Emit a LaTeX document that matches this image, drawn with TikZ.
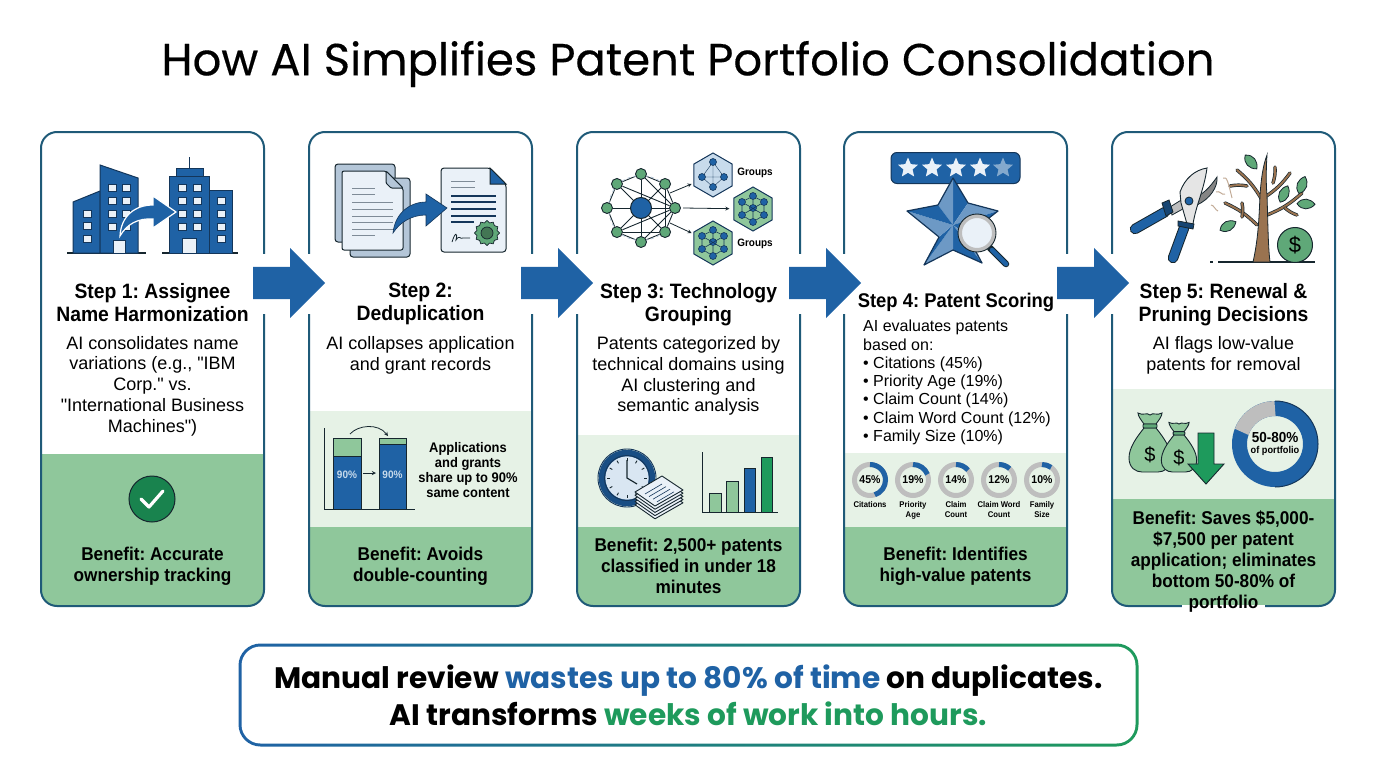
\documentclass[tikz,border=0pt]{standalone}
\usepackage{fontspec}
\setmainfont{Liberation Sans}[BoldFeatures={FakeStretch=0.93}]
\newfontfamily\titlefont{Poppins}[FakeBold=0.35]
\newfontfamily\calloutfont{Poppins}
\newfontfamily\quotefont{Liberation Sans}
\newcommand{\dq}{{\quotefont\symbol{34}}}
\usepackage{tikz}
\usetikzlibrary{positioning, arrows, backgrounds, shapes, shapes.geometric, shapes.arrows}
\definecolor{cardline}{HTML}{1F5A78}
\definecolor{patentblue}{HTML}{1F62A5}
\definecolor{navyline}{HTML}{14365A}
\definecolor{lightblue}{HTML}{C8DBEC}
\definecolor{paperblue}{HTML}{EAF1F8}
\definecolor{sheetblue}{HTML}{B4C6D8}
\definecolor{benefitgreen}{HTML}{8FC79B}
\definecolor{panelgreen}{HTML}{E6F2E6}
\definecolor{darkgreen}{HTML}{1E9A5C}
\definecolor{sealgreen}{HTML}{5FA878}
\definecolor{inkline}{HTML}{16262E}
\definecolor{treebrown}{HTML}{9A7350}
\definecolor{ringgray}{HTML}{BEBEBE}
\tikzstyle{card} = [rectangle, rounded corners=16pt, line width=2pt, minimum width=223pt, minimum height=474pt, draw=cardline]
\tikzstyle{blockarrow} = [single arrow, anchor=tail, fill=patentblue, inner sep=16pt, minimum height=72pt, minimum width=70pt, single arrow head extend=19pt]
\tikzstyle{steptitle} = [align=center, inner sep=0pt, font=\fontsize{20.8}{23}\selectfont\bfseries]
\tikzstyle{stepbody} = [align=center, inner sep=0pt, font=\fontsize{18}{20.7}\selectfont]
\tikzstyle{benefit} = [align=center, inner sep=0pt, font=\fontsize{18.5}{21}\selectfont\bfseries]
\tikzstyle{window} = [fill=paperblue, draw=navyline, line width=0.8pt]
\tikzstyle{building} = [fill=patentblue, draw=navyline, line width=1pt]
\tikzstyle{curvearrow} = [fill=patentblue, draw=white, line width=1.2pt]
\tikzstyle{arrow} = [thick,->,>=stealth,inkline]
\tikzstyle{netnode} = [circle, fill=sealgreen, draw=inkline, line width=0.9pt, minimum size=11pt, inner sep=0pt]
\tikzstyle{hexnode} = [circle, fill=patentblue, draw=navyline, line width=0.6pt, minimum size=7pt, inner sep=0pt]
\tikzstyle{hexagon} = [regular polygon, regular polygon sides=6, draw=navyline, line width=1pt, minimum size=44pt, inner sep=0pt]
\tikzstyle{tinylabel} = [align=center, inner sep=0pt, font=\fontsize{8.3}{9.6}\selectfont\bfseries]
\tikzstyle{bar} = [draw=inkline, line width=0.9pt]
\newcommand{\leafat}[3]{\begin{scope}[shift={(#1,#2)}, rotate=#3]
        \draw[fill=sealgreen, draw=inkline, line width=0.8pt] (-9pt,0pt) .. controls (-4pt,-7pt) and (4pt,-6pt) .. (9pt,0pt) .. controls (4pt,6pt) and (-4pt,7pt) .. (-9pt,0pt) -- cycle;
    \end{scope}}
\frenchspacing
\begin{document}
\begin{tikzpicture}[x=1pt, y=-1pt]
    \useasboundingbox (0,0) rectangle (1376,768);
    \node (title) [inner sep=0pt, font=\titlefont\fontsize{45}{52}\selectfont] at (688,64) {How AI Simplifies Patent Portfolio Consolidation};

    % panels of the cards
    \foreach \cx/\ly/\by in {41/454/454, 309/411/527, 577/435/527, 844/453/527, 1112/389/499} {
        \begin{scope}
            \clip[rounded corners=16pt] (\cx,132) rectangle ++(223,474);
            \fill[panelgreen] (\cx,\ly) rectangle ++(223,130);
            \fill[benefitgreen] (\cx,\by) rectangle ++(223,160);
        \end{scope}
    }
    \foreach \n/\x in {1/152.5, 2/420.5, 3/688.5, 4/955.5, 5/1223.5} {
        \node (card\n) [card] at (\x,369) {};
    }

    % step 1 buildings
    \draw[inkline, line width=1.2pt] (67,253) -- (146,253);
    \draw[inkline, line width=1.2pt] (162,253) -- (238,253);
    \draw[building] (73,253) -- (73,202) -- (100,191) -- (100,253) -- cycle;
    \draw[building] (100,253) -- (100,165) -- (138,178) -- (138,253) -- cycle;
    \draw[building] (189,157) -- (189,168);
    \draw[building] (176,168) rectangle (203,176);
    \draw[building] (169,176) rectangle (209,253);
    \draw[building] (209,190) rectangle (232,253);
    \foreach \wy in {184,197,210,223} {
        \draw[window] (108,\wy) rectangle ++(8,7);
        \draw[window] (122,\wy) rectangle ++(8,7);
        \draw[window] (178,\wy) rectangle ++(8,7);
        \draw[window] (193,\wy) rectangle ++(8,7);
    }
    \foreach \wy in {210,222,235} {
        \draw[window] (83,\wy) rectangle ++(8,7);
    }
    \foreach \wy in {197,210,223,235} {
        \draw[window] (217,\wy) rectangle ++(8,7);
    }
    \draw[fill=paperblue, draw=navyline] (113,240) rectangle (125,253);
    \draw[fill=paperblue, draw=navyline] (182,238) rectangle (196,253);
    \draw[curvearrow] (120,236) .. controls (121,216) and (135,205) .. (153,205) -- (153,196) -- (176,212) -- (153,228) -- (153,219) .. controls (138,218) and (127,224) .. (120,236) -- cycle;

    % step 2 documents
    \draw[fill=sheetblue, draw=inkline, rounded corners=3pt, line width=1pt] (335,164) rectangle (395,242);
    \draw[fill=sheetblue, draw=inkline, rounded corners=3pt, line width=1pt] (350,178) rectangle (410,257);
    \draw[fill=paperblue, draw=inkline, line width=1pt, rounded corners=2pt] (342,171) -- (386,171) -- (403,188) -- (403,250) -- (342,250) -- cycle;
    \draw[fill=sheetblue, draw=inkline, line width=1pt, rounded corners=1pt] (386,171) -- (386,183) -- (391,188) -- (403,188) -- cycle;
    \foreach \ly in {188,194,235} {
        \draw[sheetblue!70!black, line width=1pt] (352,\ly) -- (375,\ly);
    }
    \foreach \ly in {202,209,216,222,229} {
        \draw[sheetblue!70!black, line width=1pt] (352,\ly) -- (393,\ly);
    }
    \draw[fill=paperblue, draw=inkline, line width=1pt, rounded corners=3pt] (441,168) -- (490,168) -- (506,184) -- (506,252) -- (441,252) -- cycle;
    \draw[fill=patentblue, draw=inkline, line width=1pt] (490,168) -- (490,184) -- (506,184) -- cycle;
    \foreach \ly in {181,187} {
        \draw[sheetblue!70!black, line width=1pt] (451,\ly) -- (475,\ly);
    }
    \foreach \ly in {196,202,209,216} {
        \draw[navyline, line width=1.2pt] (451,\ly) -- (496,\ly);
    }
    \draw[navyline, line width=1.2pt] (451,222) -- (474,222);
    \node (seal) [star, star points=12, star point ratio=1.2, fill=sealgreen, draw=inkline, line width=0.7pt, minimum size=25pt, inner sep=0pt] at (487,233) {};
    \draw[draw=inkline, fill=sealgreen!70!black, line width=0.7pt] (seal.center) circle (6pt);
    \draw[inkline, line width=0.8pt] (452,242) .. controls (455,232) and (458,232) .. (456,240) .. controls (460,234) and (460,240) .. (463,238) -- (470,238);
    \draw[fill=patentblue, draw=navyline, line width=0.6pt] (393,233) .. controls (395,213) and (410,202) .. (426,202) -- (426,194) -- (447,208) -- (426,226) -- (426,215) .. controls (412,215) and (400,222) .. (393,233) -- cycle;

    % step 3 network and groups
    \foreach \a/\n in {90/1, 45/2, 0/3, -45/4, -90/5, -135/6, 180/7, 135/8} {
        \node (net\n) [netnode] at ([shift={(\a:34pt)}]641,208) {};
    }
    \node (nethub) [circle, fill=patentblue, draw=inkline, line width=1pt, minimum size=21pt, inner sep=0pt] at (641,208) {};
    \begin{scope}[on background layer]
        \foreach \a/\b in {1/2,2/3,3/4,4/5,5/6,6/7,7/8,8/1,2/4,4/6,8/3,6/3,1/3,5/3} {
            \draw[inkline, line width=0.9pt] (net\a) -- (net\b);
        }
        \foreach \n in {1,...,8} {
            \draw[inkline, line width=0.9pt] (nethub) -- (net\n);
        }
        \draw[sheetblue, line width=0.8pt, dashed] (net8) to[bend right=30] (net6) (net6) to[bend right=30] (net4) (net8) to[bend left=30] (net2);
    \end{scope}
    \node (hexa) [hexagon, shape border rotate=90, fill=lightblue] at (713,175) {};
    \node (hexb) [hexagon, shape border rotate=90, fill=benefitgreen] at (753,209) {};
    \node (hexc) [hexagon, shape border rotate=90, fill=benefitgreen] at (713,243) {};
    \coordinate (outa) at (670,193);
    \coordinate (outb) at (683,208);
    \coordinate (outc) at (670,223);
    \draw [arrow, shorten >=2pt] (outa) -- (hexa);
    \draw [arrow, shorten >=4pt] (outb) -- (hexb);
    \draw [arrow, shorten >=2pt] (outc) -- (hexc);
    \foreach \dx/\dy/\n in {0/-13/1, -11/2/2, 11/2/3, 0/12/4} {
        \node (hexa\n) [hexnode] at ([shift={(\dx,\dy)}]713,175) {};
    }
    \draw[navyline] (hexa1) -- (hexa2) -- (hexa4) -- (hexa3) -- (hexa1) -- (hexa4) (hexa2) -- (hexa3);
    \foreach \h/\cx/\cy in {b/753/209, c/713/243} {
        \foreach \dx/\dy/\n in {0/-13/1, -11/-7/2, 11/-7/3, 0/-1/4, -11/6/5, 11/6/6, 0/13/7} {
            \node (hex\h\n) [hexnode] at (\cx+\dx,\cy+\dy) {};
        }
        \draw[navyline, line width=0.6pt] (hex\h1) -- (hex\h2) -- (hex\h5) -- (hex\h7) -- (hex\h6) -- (hex\h3) -- (hex\h1) -- (hex\h4) -- (hex\h7) (hex\h2) -- (hex\h6) (hex\h3) -- (hex\h5);
    }
    \node (groupsa) [inner sep=0pt, font=\fontsize{10.7}{12}\selectfont\bfseries] at (755,173) {Groups};
    \node (groupsc) [inner sep=0pt, font=\fontsize{10.7}{12}\selectfont\bfseries] at (755,244) {Groups};

    % step 4 rating and star
    \node (rating) [rectangle, rounded corners=6pt, fill=patentblue, draw=navyline, line width=1pt, minimum width=129pt, minimum height=31pt] at (955.5,168) {};
    \foreach \x/\n/\col in {908/1/paperblue, 932/2/paperblue, 956/3/paperblue, 980/4/paperblue, 1003/5/patentblue!55!white} {
        \node (star\n) [star, star points=5, star point ratio=2.2, fill=\col, minimum size=21pt, inner sep=0pt] at (\x,168) {};
    }
    \foreach \ax/\ay/\bx/\by/\col in {953/178/968/203/patentblue, 953/178/938/205/patentblue!65!white, 998/211/968/203/patentblue!65!white, 998/211/967/235/patentblue, 982/263/967/235/patentblue!65!white, 982/263/953/250/patentblue, 924/265/953/250/patentblue!65!white, 924/265/939/237/patentblue, 907/211/939/237/patentblue!65!white, 907/211/938/205/patentblue} {
        \fill[\col] (953,225) -- (\ax,\ay) -- (\bx,\by) -- cycle;
    }
    \draw[navyline, line width=1.2pt, line join=round] (953,178) -- (968,203) -- (998,211) -- (967,235) -- (982,263) -- (953,250) -- (924,265) -- (939,237) -- (907,211) -- (938,205) -- cycle;
    \draw[inkline, line width=6.5pt, line cap=round] (990,248) -- (1006,264);
    \draw[patentblue, line width=4.5pt, line cap=round] (992,250) -- (1006,264);
    \node (lens) [circle, fill=paperblue, draw=ringgray, line width=4pt, minimum size=34pt, inner sep=0pt] at (977,233) {};
    \draw[inkline, line width=0.9pt] (lens.center) circle (19pt);

    % step 5 pruner and tree
    \draw[fill=ringgray, draw=inkline, line width=0.8pt] (1170,207) -- (1186,197) -- (1190,205) -- (1172,215) -- cycle;
    \draw[fill=ringgray!70!black, draw=inkline, line width=0.8pt] (1217,177) .. controls (1218,187) and (1210,199) .. (1197,205) -- (1193,198) .. controls (1203,195) and (1210,187) .. (1217,177) -- cycle;
    \draw[fill=ringgray!40!white, draw=inkline, line width=0.9pt] (1207,168) .. controls (1195,170) and (1185,178) .. (1180,192) -- (1181,203) -- (1187,224) -- (1193,224) .. controls (1196,205) and (1204,190) .. (1207,168) -- cycle;
    \node (pivot) [circle, fill=patentblue, draw=inkline, line width=0.8pt, minimum size=8pt, inner sep=0pt] at (1189,201) {};
    \draw[inkline, line width=10.5pt, line cap=round] (1165,212) -- (1135,229);
    \draw[patentblue, line width=8.5pt, line cap=round] (1165,212) -- (1135,229);
    \draw[inkline, line width=10.5pt, line cap=round] (1184,228) -- (1173,258);
    \draw[patentblue, line width=8.5pt, line cap=round] (1184,228) -- (1173,258);
    \draw[fill=patentblue!70!black, draw=inkline, line width=0.8pt] (1162,203) -- (1169,200) -- (1173,212) -- (1166,216) -- cycle;
    \draw[fill=patentblue!70!black, draw=inkline, line width=0.8pt] (1178,221) -- (1194,224) -- (1193,229) -- (1178,226) -- cycle;
    \draw[inkline, line width=1.2pt] (1210,262) -- (1213,262) (1218,262) -- (1315,262);
    \foreach \ax/\ay/\bx/\by in {1262/200/1237/170, 1247/186/1230/186, 1265/197/1290/173, 1273/183/1275/167, 1267/215/1302/193, 1285/208/1297/215, 1257/225/1225/203, 1242/217/1242/203} {
        \draw[inkline, line width=3.4pt, line cap=round] (\ax,\ay) to[bend right=10] (\bx,\by);
        \draw[treebrown, line width=2pt, line cap=round] (\ax,\ay) to[bend right=10] (\bx,\by);
    }
    \draw[fill=treebrown, draw=inkline, line width=0.8pt] (1253,262) .. controls (1258,240) and (1259,220) .. (1260,195) .. controls (1261,180) and (1263,165) .. (1267,155) .. controls (1266,170) and (1266,185) .. (1267,195) .. controls (1268,225) and (1268,245) .. (1270,262) -- cycle;
    \draw[treebrown!60!white, line width=1pt] (1216,192) .. controls (1220,190) and (1222,196) .. (1225,194) (1223,178) .. controls (1227,176) and (1228,182) .. (1232,198) (1211,205) .. controls (1214,205) and (1215,210) .. (1218,211);
    \leafat{1251}{162}{-50}
    \leafat{1284}{194}{65}
    \leafat{1302}{185}{70}
    \leafat{1306}{204}{-2}
    \leafat{1228}{226}{28}
    \node (coin) [circle, fill=sealgreen, draw=inkline, line width=1pt, minimum size=35pt, inner sep=0pt, font=\fontsize{22}{24}\selectfont] at (1295,245) {\$};

    % step 1 check
    \node (check) [circle, fill=darkgreen!85!black, draw=inkline, line width=1pt, minimum size=46pt, inner sep=0pt] at (152,499) {};
    \draw[white, line width=3.2pt, line cap=round, line join=round] (141,499) -- (149,507) -- (163,491);

    % step 2 chart
    \draw[inkline, line width=1pt] (324,428) -- (324,509) -- (415,509);
    \draw[bar, fill=benefitgreen] (333,438) rectangle (361,456);
    \draw[bar, fill=patentblue] (333,456) rectangle (361,509);
    \draw[bar, fill=benefitgreen] (379,438) rectangle (406,444);
    \draw[bar, fill=patentblue] (379,444) rectangle (406,509);
    \node (barleft) [inner sep=0pt, text=lightblue, font=\fontsize{10.8}{13}\selectfont\bfseries] at (347,475) {90\%};
    \node (barright) [inner sep=0pt, text=lightblue, font=\fontsize{10.8}{13}\selectfont\bfseries] at (392.5,475) {90\%};
    \draw [arrow, line width=0.9pt] (barleft) ++(16,-2) -- ++(13,0);
    \draw [arrow, line width=0.8pt] (350,434) .. controls (358,425) and (378,423) .. (388,436);
    \node (sharenote) [align=center, inner sep=0pt, font=\fontsize{13.9}{15.2}\selectfont\bfseries] at (468,470) {Applications\\and grants\\share up to 90\%\\same content};

    % step 3 clock and chart
    \node (clock) [circle, fill=lightblue!70!white, draw=patentblue!80!black, line width=6.5pt, minimum size=50pt, inner sep=0pt] at (627,478) {};
    \draw[navyline, line width=0.9pt] (clock.center) circle (29pt) circle (22.5pt);
    \foreach \a in {0,30,...,330} {
        \draw[inkline, line width=0.9pt] ([shift={(\a:17pt)}]627,478) -- ([shift={(\a:20pt)}]627,478);
    }
    \draw[inkline, line width=1.2pt] (627,460) -- (627,478) -- (637,484);
    \foreach \i in {4,3,2,1,0} {
        \draw[fill=paperblue, draw=inkline, line width=0.9pt, line join=round] (635,492+3.2*\i) -- (662,476+3.2*\i) -- (683,490+3.2*\i) -- (655,506+3.2*\i) -- cycle;
    }
    \foreach \i in {0,1,2,3} {
        \draw[navyline, line width=0.6pt] (645+4*\i,494+2.6*\i) -- (662+4*\i,484+2.6*\i);
    }
    \draw[inkline, line width=1pt] (702,452) -- (702,512) -- (778,512);
    \draw[bar, fill=benefitgreen] (709,493) rectangle (721,512);
    \draw[bar, fill=benefitgreen] (726,481) rectangle (738,512);
    \draw[bar, fill=patentblue] (744,468) rectangle (755,512);
    \draw[bar, fill=darkgreen] (761,457) rectangle (772,512);

    % step 4 rings
    \foreach \n/\x/\pct/\lab in {1/870/45/Citations, 2/913/19/Priority\\Age, 3/956/14/Claim\\Count, 4/999/12/Claim Word\\Count, 5/1042/10/Family\\Size} {
        \draw[ringgray, line width=5pt] (\x,480) circle (15.5pt);
        \draw[patentblue, line width=5pt] ([shift={(90:15.5pt)}]\x,480) arc[start angle=90, delta angle=-3.6*\pct, radius=15.5pt];
        \node (ring\n) [inner sep=0pt, font=\fontsize{11.3}{13}\selectfont\bfseries] at (\x,480) {\pct\%};
        \node (ringlab\n) [tinylabel, anchor=north] at (\x,501.5) {\lab};
    }

    % step 5 bags and ring
    \foreach \cx/\cy/\sc/\n in {1150/428/1/1, 1179/435/0.84/2} {
        \begin{scope}[shift={(\cx,\cy)}, scale=\sc]
            \draw[fill=benefitgreen, draw=inkline, line width=0.9pt] (-6pt,0pt) .. controls (-14pt,-10pt) and (-21pt,-20pt) .. (-21pt,-30pt) .. controls (-21pt,-40pt) and (-14pt,-44pt) .. (-8pt,-44pt) -- (8pt,-44pt) .. controls (14pt,-44pt) and (21pt,-40pt) .. (21pt,-30pt) .. controls (21pt,-20pt) and (14pt,-10pt) .. (6pt,0pt) -- cycle;
            \draw[fill=benefitgreen, draw=inkline, line width=0.9pt] (-6pt,4pt) .. controls (-9pt,8pt) and (-12pt,12pt) .. (-12pt,15pt) .. controls (-7pt,12pt) and (-3pt,16pt) .. (0pt,13pt) .. controls (3pt,16pt) and (7pt,12pt) .. (12pt,15pt) .. controls (12pt,12pt) and (9pt,8pt) .. (6pt,4pt) -- cycle;
            \draw[fill=sealgreen, draw=inkline, line width=0.9pt, rounded corners=1pt] (-7pt,4pt) rectangle (7pt,0pt);
            \node (bag\n) [inner sep=0pt, font=\fontsize{20}{22}\selectfont] at (0pt,-27pt) {\$};
        \end{scope}
    }
    \draw[fill=darkgreen, draw=inkline, line width=0.9pt] (1198,433) -- (1214,433) -- (1214,464) -- (1224,464) -- (1206,484) -- (1188,464) -- (1198,464) -- cycle;
    \draw[patentblue, line width=15pt] (1275,444) circle (35.5pt);
    \draw[ringgray, line width=15pt] ([shift={(90:35.5pt)}]1275,444) arc[start angle=90, delta angle=70, radius=35.5pt];
    \draw[navyline, line width=1pt] ([shift={(90:43pt)}]1275,444) arc[start angle=90, delta angle=-180, radius=43pt];
    \node (ringtext) [align=center, inner sep=0pt] at (1275,444) {{\fontsize{14.5}{15}\selectfont\bfseries 50-80\%}\\[-1pt]{\fontsize{9.9}{11}\selectfont\bfseries of portfolio}};

    % step texts
    \node (title1) [steptitle] at (152.5,302.5) {Step 1: Assignee\\Name Harmonization};
    \node (title2) [steptitle] at (420.5,304) {Step 2:\\Deduplication};
    \node (title3) [steptitle] at (688.5,304.5) {Step 3: Technology\\Grouping};
    \node (title4) [steptitle, font=\fontsize{19.8}{23}\selectfont\bfseries] at (956,302) {Step 4: Patent Scoring};
    \node (title5) [steptitle] at (1223.5,304.5) {Step 5: Renewal \&\\Pruning Decisions};
    \node (body1) [stepbody] at (152.5,386) {AI consolidates name\\variations (e.g., \dq IBM\\Corp.\dq{} vs.\\\dq International Business\\Machines\dq)};
    \node (body2) [stepbody] at (420.5,355.5) {AI collapses application\\and grant records};
    \node (body3) [stepbody] at (688.5,376) {Patents categorized by\\technical domains using\\AI clustering and\\semantic analysis};
    \node (body4) [stepbody, align=left, anchor=north west, font=\fontsize{16}{18.3}\selectfont] at (863,320) {AI evaluates patents\\based on:\\• Citations (45\%)\\• Priority Age (19\%)\\• Claim Count (14\%)\\• Claim Word Count (12\%)\\• Family Size (10\%)};
    \node (body5) [stepbody] at (1223.5,355.5) {AI flags low-value\\patents for removal};
    \node (benefit1) [benefit] at (152.5,566.5) {Benefit: Accurate\\ownership tracking};
    \node (benefit2) [benefit] at (420.5,566.5) {Benefit: Avoids\\double-counting};
    \node (benefit3) [benefit] at (688.5,566) {Benefit: 2,500+ patents\\classified in under 18\\minutes};
    \node (benefit4) [benefit] at (955.5,566.5) {Benefit: Identifies\\high-value patents};
    \draw[white, line width=3pt] (1182,606) -- (1265,606);
    \node (benefit5) [benefit] at (1223.5,561.5) {Benefit: Saves \$5,000-\\\$7,500 per patent\\application; eliminates\\bottom 50-80\% of\\portfolio};

    % block arrows between the cards
    \foreach \n/\x in {1/253, 2/521, 3/789, 4/1057} {
        \fill[white] (\x+9,254) rectangle (\x+58,314);
        \node (arrow\n) [blockarrow] at (\x,283) {};
    }

    % closing message
    \node (calloutframe) [rectangle, rounded corners=22pt, left color=patentblue, right color=darkgreen, minimum width=900pt, minimum height=103pt] at (688.5,695) {};
    \node (callout) [rectangle, rounded corners=19pt, fill=white, minimum width=894pt, minimum height=97pt, align=center, font=\calloutfont\fontsize{29.6}{37}\selectfont\bfseries] at (688.5,695)
      {Manual review \textcolor{patentblue}{wastes up to 80\% of time} on duplicates.\\AI transforms \textcolor{darkgreen}{weeks of work into hours.}};
\end{tikzpicture}
\end{document}
